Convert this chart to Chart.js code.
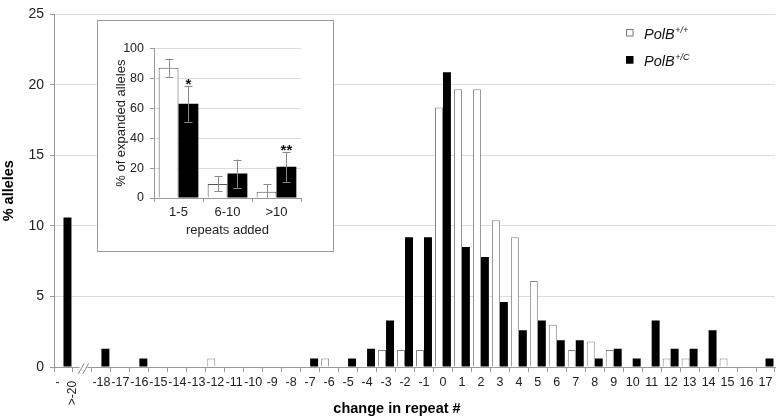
<!DOCTYPE html>
<html><head><meta charset="utf-8">
<script src="https://cdn.jsdelivr.net/npm/chart.js@4.4.1/dist/chart.umd.min.js"></script>
<style>
html,body{margin:0;padding:0;background:#fff;}
#wrap{position:relative;width:777px;height:419px;overflow:hidden;}
#main{position:absolute;left:0;top:0;}
#box{position:absolute;left:97px;top:20px;width:237px;height:232px;box-sizing:border-box;border:1.5px solid #9a9a9a;background:#fff;}
#inset{position:absolute;left:97px;top:20px;}
</style></head>
<body>
<div id="wrap">
<canvas id="main" width="777" height="419" style="width:777px;height:419px"></canvas>
<div id="box"></div>
<canvas id="inset" width="237" height="232" style="width:237px;height:232px"></canvas>
</div>
<script>
// ---- main chart data ----
const changeLabels = ['>-20','', '-18','-17','-16','-15','-14','-13','-12','-11','-10','-9','-8','-7','-6','-5','-4','-3','-2','-1',
  '0','1','2','3','4','5','6','7','8','9','10','11','12','13','14','15','16','17'];
const wildTypePct = [null,null, null,null,null,null,null,null,0.6,null,null,null,null,null,0.6,null,null,1.2,1.2,1.2,
  18.4,19.7,19.7,10.4,9.2,6.1,3.0,1.2,1.8,1.2,null,null,0.6,0.6,null,0.6,null,null];
const mutantPct = [10.6,null, 1.3,null,0.6,null,null,null,null,null,null,null,null,0.6,null,0.6,1.3,3.3,9.2,9.2,
  20.9,8.5,7.8,4.6,2.6,3.3,1.9,1.9,0.6,1.3,0.6,3.3,1.3,1.3,2.6,null,null,0.6];
const yTicksMain = [0,5,10,15,20,25];

// ---- inset data ----
const addedLabels = ['1-5','6-10','>10'];
const insetWildType = [87, 9.4, 4.2];
const insetWildTypeErr = [6, 5, 5];
const insetMutant = [63, 16.3, 20.8];
const insetMutantErr = [12, 9.4, 10];
const insetSignificance = ['*','','**'];

const FONT = "'Liberation Sans', Arial, Helvetica, sans-serif";

const mainDecor = {
  id:'mainDecor',
  afterDraw(chart){
    const ctx = chart.ctx, xs = chart.scales.x, ys = chart.scales.y;
    const y0 = ys.getPixelForValue(0);
    ctx.save();
    // axis break
    const cb = xs.getPixelForValue(1);
    ctx.fillStyle = '#fff';
    ctx.fillRect(cb - 3, y0 - 2, 8, 4);
    ctx.strokeStyle = '#8a8a8a'; ctx.lineWidth = 1;
    ctx.beginPath();
    ctx.moveTo(cb - 4.2, y0 + 7); ctx.lineTo(cb + 1.8, y0 - 3.7);
    ctx.moveTo(cb + 0.2, y0 + 7); ctx.lineTo(cb + 6.2, y0 - 3.7);
    ctx.stroke();
    // first category label
    const c0 = xs.getPixelForValue(0);
    ctx.fillStyle = '#222';
    ctx.font = '12px ' + FONT;
    ctx.textAlign = 'center'; ctx.textBaseline = 'middle';
    ctx.fillText('-', c0 - 6, y0 + 16);
    ctx.save();
    ctx.translate(c0 + 9, y0 + 26);
    ctx.rotate(-Math.PI/2);
    ctx.fillText(changeLabels[0], 0, 0);
    ctx.restore();
    // x title
    ctx.fillStyle = '#000';
    ctx.font = 'bold 14.5px ' + FONT;
    ctx.textAlign = 'center'; ctx.textBaseline = 'middle';
    ctx.fillText('change in repeat #', 397, 409);
    // legend
    const items = [
      {fill:'#fff', stroke:'#777', sup:'+/+', y:33},
      {fill:'#000', stroke:'#000', sup:'+/C', y:60}
    ];
    items.forEach(it => {
      ctx.fillStyle = it.fill; ctx.strokeStyle = it.stroke; ctx.lineWidth = 1;
      ctx.fillRect(626, it.y - 3.5, 7, 7);
      ctx.strokeRect(626.5, it.y - 3.5, 6.5, 6.5);
      ctx.fillStyle = '#111';
      ctx.textAlign = 'left'; ctx.textBaseline = 'alphabetic';
      ctx.font = 'italic 14.5px ' + FONT;
      ctx.fillText('PolB', 644, it.y + 6);
      const w = ctx.measureText('PolB').width;
      ctx.font = 'italic 9px ' + FONT;
      ctx.fillText(it.sup, 644 + w + 0.5, it.y);
    });
    ctx.restore();
  }
};

new Chart(document.getElementById('main'), {
  type:'bar',
  data:{
    labels: changeLabels,
    datasets:[
      {label:'PolB+/+', data: wildTypePct, backgroundColor:'#fff', borderColor:'#858585', borderWidth:1,
       categoryPercentage:0.84, barPercentage:1},
      {label:'PolB+/C', data: mutantPct, backgroundColor:'#000', borderColor:'#000', borderWidth:0,
       categoryPercentage:0.84, barPercentage:1}
    ]
  },
  options:{
    responsive:false, animation:false, devicePixelRatio:1,
    layout:{padding:{left:0, right:2, top:7, bottom:0}},
    plugins:{legend:{display:false}, tooltip:{enabled:false}},
    scales:{
      x:{
        grid:{display:true, drawOnChartArea:false, drawTicks:true, tickLength:5, color:'#999', offset:true},
        border:{color:'#999'},
        ticks:{autoSkip:false, maxRotation:0, minRotation:0, padding:3.5, color:'#222',
          font:{family:FONT, size:12.5},
          callback:(v,i)=> i===0 ? '' : changeLabels[i]},
        afterFit:s=>{ s.height = 52; }
      },
      y:{
        min:0, max:25,
        afterBuildTicks:s=>{ s.ticks = yTicksMain.map(v=>({value:v})); },
        ticks:{padding:6, color:'#222', font:{family:FONT, size:14}},
        grid:{color:'#dcdcdc', tickColor:'#999', tickLength:4},
        border:{color:'#999'},
        title:{display:true, text:'% alleles', color:'#000', padding:0, font:{family:FONT, size:14.5, weight:'bold'}},
        afterFit:s=>{ s.width = 54; }
      }
    }
  },
  plugins:[mainDecor]
});

const insetDecor = {
  id:'insetDecor',
  afterDatasetsDraw(chart){
    const ctx = chart.ctx, ys = chart.scales.y;
    const vals = [insetWildType, insetMutant], errs = [insetWildTypeErr, insetMutantErr];
    ctx.save();
    ctx.strokeStyle = '#8a8a8a'; ctx.lineWidth = 1;
    [0,1].forEach(d => {
      const meta = chart.getDatasetMeta(d);
      meta.data.forEach((bar, j) => {
        const v = vals[d][j], e = errs[d][j];
        const yt = ys.getPixelForValue(v + e), yb = ys.getPixelForValue(Math.max(0, v - e));
        const x = Math.round(bar.x) + 0.5;
        ctx.beginPath();
        ctx.moveTo(x, yt); ctx.lineTo(x, yb);
        ctx.moveTo(x - 4, Math.round(yt) + 0.5); ctx.lineTo(x + 4, Math.round(yt) + 0.5);
        if (v - e > 0) { ctx.moveTo(x - 4, Math.round(yb) + 0.5); ctx.lineTo(x + 4, Math.round(yb) + 0.5); }
        ctx.stroke();
        if (d === 1 && insetSignificance[j]) {
          ctx.fillStyle = '#111';
          ctx.font = 'bold 15px ' + FONT;
          ctx.textAlign = 'center'; ctx.textBaseline = 'alphabetic';
          ctx.fillText(insetSignificance[j], bar.x, yt + 3);
        }
      });
    });
    ctx.restore();
  }
};

new Chart(document.getElementById('inset'), {
  type:'bar',
  data:{
    labels: addedLabels,
    datasets:[
      {label:'PolB+/+', data: insetWildType, backgroundColor:'#fff', borderColor:'#555', borderWidth:1,
       categoryPercentage:0.81, barPercentage:1},
      {label:'PolB+/C', data: insetMutant, backgroundColor:'#000', borderColor:'#000', borderWidth:0,
       categoryPercentage:0.81, barPercentage:1}
    ]
  },
  options:{
    responsive:false, animation:false, devicePixelRatio:1,
    layout:{padding:{left:17, right:33, top:28.3, bottom:0}},
    plugins:{legend:{display:false}, tooltip:{enabled:false}},
    scales:{
      x:{
        grid:{display:true, drawOnChartArea:false, drawTicks:true, tickLength:4, color:'#999', offset:true},
        border:{color:'#999'},
        ticks:{autoSkip:false, maxRotation:0, minRotation:0, padding:3, color:'#222', font:{family:FONT, size:13}},
        title:{display:true, text:'repeats added', color:'#222', padding:{top:0, bottom:14}, font:{family:FONT, size:13}},
        afterFit:s=>{ s.height = 54; }
      },
      y:{
        min:0, max:100,
        ticks:{stepSize:20, padding:6, color:'#222', font:{family:FONT, size:12.5}},
        grid:{color:'#dcdcdc', tickColor:'#999', tickLength:4},
        border:{color:'#999'},
        title:{display:true, text:'% of expanded alleles', color:'#222', padding:0, font:{family:FONT, size:13}},
        afterFit:s=>{ s.width = 40; }
      }
    }
  },
  plugins:[insetDecor]
});
</script>
</body></html>
